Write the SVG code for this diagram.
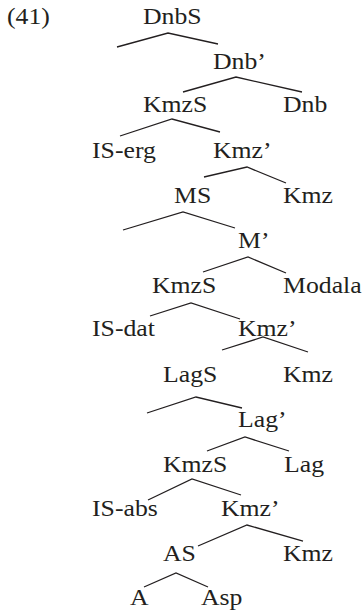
<svg xmlns="http://www.w3.org/2000/svg" width="363" height="610" viewBox="0 0 363 610">
  <style>
    text { font-family: "Liberation Serif", "Times New Roman", serif; font-size: 23px; fill: #231f20; }
    .edge { fill: none; stroke: #231f20; stroke-width: 1.3; stroke-linejoin: miter; }
  </style>
  <rect width="363" height="610" fill="#ffffff"/>

  <!-- branches of the tree -->
  <g id="connectors">
    <polyline class="edge" points="117,47 168,33 218,44"/>
    <polyline class="edge" points="183,92 236,77 302,92"/>
    <polyline class="edge" points="120,136 172,119 220,132"/>
    <polyline class="edge" points="204,177 247,167 286,183"/>
    <polyline class="edge" points="123,230 183,212 235,228"/>
    <polyline class="edge" points="203,272 248,257 286,273"/>
    <polyline class="edge" points="150,316 191,303 240,319"/>
    <polyline class="edge" points="222,350 263,337 308,352"/>
    <polyline class="edge" points="147,413 196,397 242,408"/>
    <polyline class="edge" points="207,451 245,437 289,451"/>
    <polyline class="edge" points="148,500 192,479 241,495"/>
    <polyline class="edge" points="198,546 247,525 303,541"/>
    <polyline class="edge" points="144,587 176,573 208,587"/>
  </g>

  <!-- example number -->
  <g id="label" transform="translate(7,24) scale(1.12,1)"><text>(41)</text></g>

  <!-- tree nodes -->
  <g id="n-dnbs" transform="translate(143,24) scale(1.12,1)"><text>DnbS</text></g>
  <g id="n-dnb-bar" transform="translate(213,69) scale(1.12,1)"><text>Dnb’</text></g>
  <g id="n-kmzs1" transform="translate(143,112) scale(1.12,1)"><text>KmzS</text></g>
  <g id="n-dnb" transform="translate(283,112) scale(1.12,1)"><text>Dnb</text></g>
  <g id="n-is-erg" transform="translate(92,158) scale(1.12,1)"><text>IS-erg</text></g>
  <g id="n-kmz-bar1" transform="translate(213,158) scale(1.12,1)"><text>Kmz’</text></g>
  <g id="n-ms" transform="translate(174,203) scale(1.12,1)"><text>MS</text></g>
  <g id="n-kmz1" transform="translate(283,203) scale(1.12,1)"><text>Kmz</text></g>
  <g id="n-m-bar" transform="translate(238,248) scale(1.12,1)"><text>M’</text></g>
  <g id="n-kmzs2" transform="translate(152,293) scale(1.12,1)"><text>KmzS</text></g>
  <g id="n-modala" transform="translate(283,293) scale(1.12,1)"><text>Modala</text></g>
  <g id="n-is-dat" transform="translate(92,336) scale(1.12,1)"><text>IS-dat</text></g>
  <g id="n-kmz-bar2" transform="translate(238,336) scale(1.12,1)"><text>Kmz’</text></g>
  <g id="n-lags" transform="translate(163,382) scale(1.12,1)"><text>LagS</text></g>
  <g id="n-kmz2" transform="translate(283,382) scale(1.12,1)"><text>Kmz</text></g>
  <g id="n-lag-bar" transform="translate(238,427) scale(1.12,1)"><text>Lag’</text></g>
  <g id="n-kmzs3" transform="translate(163,472) scale(1.12,1)"><text>KmzS</text></g>
  <g id="n-lag" transform="translate(284,472) scale(1.12,1)"><text>Lag</text></g>
  <g id="n-is-abs" transform="translate(92,516) scale(1.12,1)"><text>IS-abs</text></g>
  <g id="n-kmz-bar3" transform="translate(221,516) scale(1.12,1)"><text>Kmz’</text></g>
  <g id="n-as" transform="translate(163,561) scale(1.12,1)"><text>AS</text></g>
  <g id="n-kmz3" transform="translate(283,561) scale(1.12,1)"><text>Kmz</text></g>
  <g id="n-a" transform="translate(130,605) scale(1.12,1)"><text>A</text></g>
  <g id="n-asp" transform="translate(201,605) scale(1.12,1)"><text>Asp</text></g>
</svg>
